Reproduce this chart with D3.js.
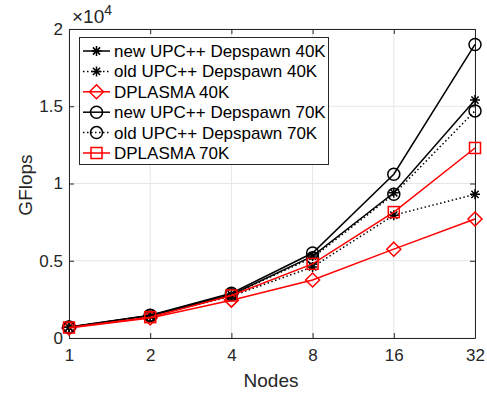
<!DOCTYPE html>
<html>
<head>
<meta charset="utf-8">
<script src="https://cdn.jsdelivr.net/npm/d3@7/dist/d3.min.js"></script>
<style>
  body { margin: 0; background: #fff; }
  svg { font-family: "Liberation Sans", Arial, sans-serif; }
</style>
</head>
<body>
<svg id="chart" width="487" height="394"></svg>
<script>
// x categories (nodes) and GFlops per series
const nodes = [1, 2, 4, 8, 16, 32];
const newDep40 = [700, 1450, 2800, 5300, 9400, 15400];
const oldDep40 = [700, 1400, 2700, 4600, 7950, 9300];
const dplasma40 = [650, 1300, 2450, 3750, 5750, 7700];
const newDep70 = [720, 1480, 2900, 5500, 10600, 19000];
const oldDep70 = [700, 1450, 2800, 5200, 9300, 14700];
const dplasma70 = [680, 1350, 2750, 4800, 8150, 12300];
const yTicks = [0, 5000, 10000, 15000, 20000];
const yTickLabels = ['0', '0.5', '1', '1.5', '2'];

const series = [
  {name: 'new UPC++ Depspawn 40K', values: newDep40, color: '#000', dash: null, marker: 'star'},
  {name: 'old UPC++ Depspawn 40K', values: oldDep40, color: '#000', dash: '1.5,2.5', marker: 'star'},
  {name: 'DPLASMA 40K', values: dplasma40, color: '#ff0000', dash: null, marker: 'diamond'},
  {name: 'new UPC++ Depspawn 70K', values: newDep70, color: '#000', dash: null, marker: 'circle'},
  {name: 'old UPC++ Depspawn 70K', values: oldDep70, color: '#000', dash: '1.5,2.5', marker: 'circle'},
  {name: 'DPLASMA 70K', values: dplasma70, color: '#ff0000', dash: null, marker: 'square'}
];

const svg = d3.select('#chart');
const pLeft = 69, pRight = 475, pTop = 29, pBottom = 338;

const x = d3.scaleLog().base(2).domain([1, 32]).range([pLeft, pRight]);
const y = d3.scaleLinear().domain([0, 20000]).range([pBottom, pTop]);

const axisColor = '#262626';
const tickFont = 17;

// grid
const grid = svg.append('g');
grid.selectAll('.gx').data(nodes).enter().append('line')
  .attr('x1', d => x(d)).attr('x2', d => x(d))
  .attr('y1', pTop).attr('y2', pBottom)
  .attr('stroke', '#e6e6e6').attr('stroke-width', 1);
grid.selectAll('.gy').data(yTicks).enter().append('line')
  .attr('x1', pLeft).attr('x2', pRight)
  .attr('y1', d => y(d)).attr('y2', d => y(d))
  .attr('stroke', '#e6e6e6').attr('stroke-width', 1);

// axes
const xAxis = d3.axisBottom(x).tickValues(nodes).tickFormat(d3.format('d')).tickSizeInner(-5).tickSizeOuter(0).tickPadding(11);
const yAxis = d3.axisLeft(y).tickValues(yTicks).tickFormat((d, i) => yTickLabels[i]).tickSizeInner(-5).tickSizeOuter(0).tickPadding(6);
const xTop = d3.axisTop(x).tickValues(nodes).tickFormat('').tickSizeInner(-5).tickSizeOuter(0);
const yRight = d3.axisRight(y).tickValues(yTicks).tickFormat('').tickSizeInner(-5).tickSizeOuter(0);

function styleAxis(g) {
  g.selectAll('path, line').attr('stroke', axisColor).attr('stroke-width', 1);
  g.selectAll('text').attr('fill', axisColor).attr('font-size', tickFont).attr('font-family', null);
}
svg.append('g').attr('transform', `translate(0,${pBottom})`).call(xAxis).call(styleAxis);
svg.append('g').attr('transform', `translate(${pLeft},0)`).call(yAxis).call(styleAxis);
svg.append('g').attr('transform', `translate(0,${pTop})`).call(xTop).call(styleAxis);
svg.append('g').attr('transform', `translate(${pRight},0)`).call(yRight).call(styleAxis);

// exponent
const expo = svg.append('text').attr('x', 72).attr('y', 23).attr('fill', axisColor).attr('font-size', 19);
expo.append('tspan').text('×10');
expo.append('tspan').attr('dy', -8).attr('font-size', 14).text('4');

// labels
svg.append('text').attr('x', 271).attr('y', 387).attr('text-anchor', 'middle')
  .attr('fill', axisColor).attr('font-size', 19).text('Nodes');
svg.append('text').attr('transform', 'translate(32,185) rotate(-90)').attr('text-anchor', 'middle')
  .attr('fill', axisColor).attr('font-size', 19).text('GFlops');

function drawMarker(g, type, cx, cy, color) {
  if (type === 'circle') {
    g.append('circle').attr('cx', cx).attr('cy', cy).attr('r', 6)
      .attr('fill', 'none').attr('stroke', color).attr('stroke-width', 1.5);
  } else if (type === 'square') {
    g.append('rect').attr('x', cx - 5.5).attr('y', cy - 5.5).attr('width', 11).attr('height', 11)
      .attr('fill', 'none').attr('stroke', color).attr('stroke-width', 1.5);
  } else if (type === 'diamond') {
    g.append('path').attr('d', `M${cx},${cy - 7}L${cx + 7},${cy}L${cx},${cy + 7}L${cx - 7},${cy}Z`)
      .attr('fill', 'none').attr('stroke', color).attr('stroke-width', 1.5);
  } else {
    const r = 5, s = 3.6;
    g.append('path').attr('d',
      `M${cx - r},${cy}L${cx + r},${cy}M${cx},${cy - r}L${cx},${cy + r}` +
      `M${cx - s},${cy - s}L${cx + s},${cy + s}M${cx - s},${cy + s}L${cx + s},${cy - s}`)
      .attr('stroke', color).attr('stroke-width', 1.5);
  }
}

const line = d3.line().x((d, i) => x(nodes[i])).y(d => y(d));
const plot = svg.append('g');
series.forEach(s => {
  plot.append('path').datum(s.values).attr('d', line)
    .attr('fill', 'none').attr('stroke', s.color).attr('stroke-width', 1.5)
    .attr('stroke-dasharray', s.dash);
  s.values.forEach((v, i) => drawMarker(plot, s.marker, x(nodes[i]), y(v), s.color));
});

// legend
const lg = svg.append('g');
lg.append('rect').attr('x', 79.5).attr('y', 37.5).attr('width', 249).attr('height', 127)
  .attr('fill', '#fff').attr('stroke', axisColor).attr('stroke-width', 1);
series.forEach((s, i) => {
  const cy = 51 + i * 20.4;
  lg.append('line').attr('x1', 83).attr('x2', 110).attr('y1', cy).attr('y2', cy)
    .attr('stroke', s.color).attr('stroke-width', 1.5).attr('stroke-dasharray', s.dash);
  drawMarker(lg, s.marker, 96.5, cy, s.color);
  lg.append('text').attr('x', 114).attr('y', cy + 6).attr('font-size', 17)
    .attr('fill', '#000').text(s.name);
});
</script>
</body>
</html>
